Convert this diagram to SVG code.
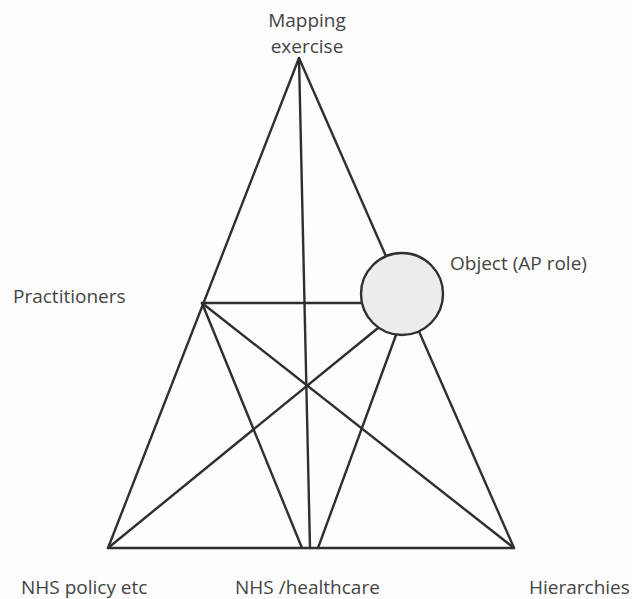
<svg xmlns="http://www.w3.org/2000/svg" width="632" height="599" viewBox="0 0 632 599">
<style>
.ln{stroke:#2f2f2f;stroke-width:2.4;fill:none;stroke-linecap:round;stroke-linejoin:round}
.lbl{font-family:"Open Sans","Noto Sans",sans-serif;font-size:19px;fill:#444}
</style>
<rect width="632" height="599" fill="#fdfdfd"/>
<g id="connectors">
<polygon class="ln" points="299,58 108,548 514,548"/>
<line class="ln" x1="299" y1="58" x2="310" y2="548"/>
<line class="ln" x1="202" y1="303" x2="365" y2="303"/>
<line class="ln" x1="202" y1="303" x2="302" y2="548"/>
<line class="ln" x1="202" y1="303" x2="514" y2="548"/>
<line class="ln" x1="378" y1="328" x2="108" y2="548"/>
<line class="ln" x1="396" y1="335" x2="318" y2="548"/>
</g>
<g id="object">
<circle cx="402" cy="294" r="41" fill="#ececec" stroke="#2f2f2f" stroke-width="2.4"/>
<text class="lbl" x="450" y="270">Object (AP role)</text>
</g>
<g id="mapping">
<text class="lbl" x="307" y="27" text-anchor="middle">Mapping</text>
<text class="lbl" x="307" y="53" text-anchor="middle">exercise</text>
</g>
<g id="practitioners">
<text class="lbl" x="13" y="303">Practitioners</text>
</g>
<g id="nhs-policy">
<text class="lbl" x="21" y="594">NHS policy etc</text>
</g>
<g id="nhs-healthcare">
<text class="lbl" x="235" y="594">NHS /healthcare</text>
</g>
<g id="hierarchies">
<text class="lbl" x="529" y="594">Hierarchies</text>
</g>
</svg>
